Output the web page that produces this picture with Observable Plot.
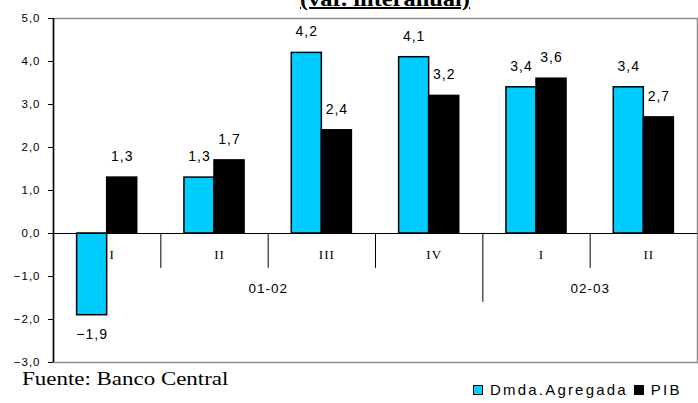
<!DOCTYPE html>
<html>
<head>
<meta charset="utf-8">
<script src="https://cdn.jsdelivr.net/npm/d3@7"></script>
<script src="https://cdn.jsdelivr.net/npm/@observablehq/plot@0.6"></script>
<style>
  html, body { margin: 0; padding: 0; background: #fff; }
  #wrap { position: relative; width: 698px; height: 403px; overflow: hidden; background: #fff; }
  #chart { position: absolute; top: 0; left: 0; z-index: 1; }
  #title { position: absolute; z-index: 2; top: -11px; left: 300px; font-family: "Liberation Serif", serif; font-weight: bold; font-size: 20px; line-height: 20px; text-decoration: underline; transform: scaleX(1.22); transform-origin: left top; white-space: nowrap; }
  #chart svg text { letter-spacing: 1px; }
  #source { position: absolute; z-index: 2; left: 22px; top: 368px; font-family: "Liberation Serif", serif; font-size: 18.5px; line-height: 22px; transform: scaleX(1.24); transform-origin: left top; white-space: nowrap; }
  #legend { position: absolute; z-index: 2; left: 473px; top: 380px; font-family: "Liberation Sans", sans-serif; font-size: 15px; line-height: 20px; white-space: nowrap; display: flex; align-items: center; letter-spacing: 2.2px; }
  #legend .sw { display: inline-block; width: 8px; height: 8px; border: 1px solid #000; margin-right: 7px; }
  #legend .item { display: flex; align-items: center; margin-right: 6px; }
</style>
</head>
<body>
<div id="wrap">
  <div id="chart"></div>
  <div id="title">(var. interanual)</div>
  <div id="source">Fuente: Banco Central</div>
  <div id="legend"></div>
</div>
<script>
// ---- data ----
const periods = ["I", "II", "III", "IV", "I", "II"];
const yearOfPeriod = ["01-02", "01-02", "01-02", "01-02", "02-03", "02-03"];
const seriesNames = ["Dmda.Agregada", "PIB"];
const seriesColors = ["#00CCFF", "#000000"];
const dmda = [-1.9, 1.3, 4.2, 4.1, 3.4, 3.4];
const pib = [1.3, 1.7, 2.4, 3.2, 3.6, 2.7];
const yTicks = [-3, -2, -1, 0, 1, 2, 3, 4, 5];

// ---- build table ----
const rows = [];
periods.forEach((p, i) => {
  rows.push({i, series: seriesNames[0], value: dmda[i]});
  rows.push({i, series: seriesNames[1], value: pib[i]});
});
const bw = 0.28; // bar width as fraction of a category slot
const x1 = d => d.series === seriesNames[0] ? d.i + 0.5 - bw : d.i + 0.5;
const x2 = d => d.series === seriesNames[0] ? d.i + 0.5 : d.i + 0.5 + bw;
const xc = d => (x1(d) + x2(d)) / 2;
const fmt = v => d3.format(".1f")(v).replace(".", ",").replace("-", "\u2013");

// year groups
const years = Array.from(new Set(yearOfPeriod));
const yearCenters = years.map(y => {
  const idx = yearOfPeriod.map((v, i) => v === y ? i : -1).filter(i => i >= 0);
  return {year: y, x: (d3.min(idx) + d3.max(idx) + 1) / 2};
});
// category boundaries
const bounds = d3.range(1, periods.length).map(b => ({b, major: yearOfPeriod[b] !== yearOfPeriod[b - 1]}));

const chart = Plot.plot({
  width: 698,
  height: 372,
  marginTop: 18,
  marginBottom: 10,
  marginLeft: 53,
  marginRight: 1,
  x: {domain: [0, periods.length], axis: null},
  y: {domain: [-3, 5]},
  style: {fontFamily: "'Liberation Sans', sans-serif", background: "transparent"},
  marks: [
    Plot.frame({stroke: "#8c8c8c", strokeWidth: 1.5}),
    Plot.rectY(rows, {x1, x2, y: "value", fill: d => d.series, stroke: "#000", strokeWidth: 1.5}),
    Plot.ruleY([0], {stroke: "#000"}),
    Plot.ruleX([0], {stroke: "#000", strokeWidth: 1.5}),
    Plot.ruleX(bounds, {x: "b", y1: 0, y2: d => d.major ? -1.6 : -0.81, stroke: "#000"}),
    Plot.axisY({ticks: yTicks, tickFormat: fmt, tickSize: 5, tickPadding: 8, fontSize: 11.5, label: null, stroke: "#000"}),
    Plot.text(rows.filter(d => d.value >= 0), {x: xc, y: "value", text: d => fmt(d.value), dy: -21, fontSize: 14, fill: "#000"}),
    Plot.text(rows.filter(d => d.value < 0), {x: xc, y: "value", text: d => fmt(d.value), dy: 19, fontSize: 14, fill: "#000"}),
    Plot.text(periods, {x: (d, i) => i + 0.5, y: -0.49, dx: 5, text: d => d, fontSize: 13, fontFamily: "'Liberation Serif', serif", fill: "#000"}),
    Plot.text(yearCenters, {x: "x", y: -1.28, text: "year", fontSize: 13.5, fill: "#000"})
  ],
  color: {domain: seriesNames, range: seriesColors}
});
document.getElementById("chart").appendChild(chart);

// legend
const legend = document.getElementById("legend");
seriesNames.forEach((n, k) => {
  const item = document.createElement("span");
  item.className = "item";
  const sw = document.createElement("span");
  sw.className = "sw";
  sw.style.background = seriesColors[k];
  item.appendChild(sw);
  item.appendChild(document.createTextNode(n));
  legend.appendChild(item);
});
</script>
</body>
</html>
